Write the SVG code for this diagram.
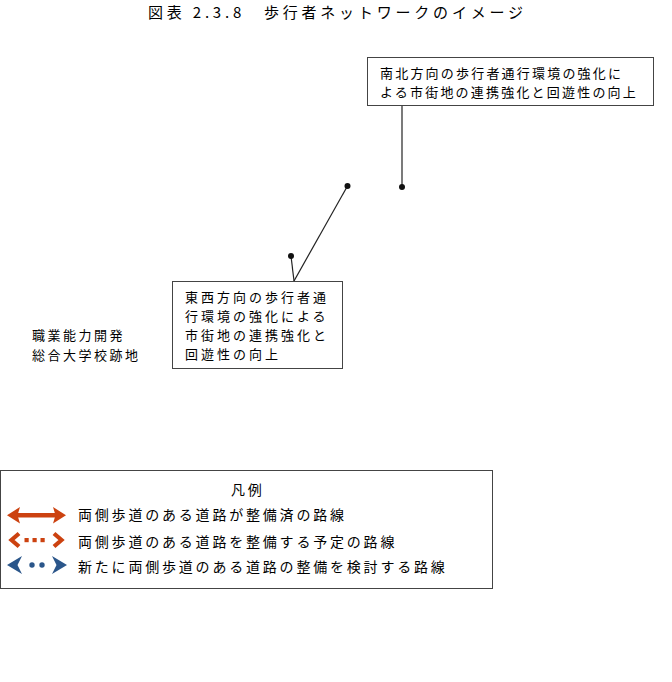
<svg xmlns="http://www.w3.org/2000/svg" width="672" height="682" viewBox="0 0 672 682">
<style>
text{font-family:"Noto Sans CJK JP","Noto Sans",sans-serif;fill:#000}
.t{font-size:15px;letter-spacing:3.8px}
.b{font-size:13px;letter-spacing:3px}
.n{font-size:13px;letter-spacing:2.2px}
.l{font-size:13px;letter-spacing:2.5px}
.g{font-size:14px;letter-spacing:2.8px}
.box{fill:#fff;stroke:#444;stroke-width:1}
.con{stroke:#222;stroke-width:1.2;fill:none}
.dot{fill:#111}
.red{fill:#cc4210}
.blue{fill:#2b568a}
</style>
<rect width="672" height="682" fill="#fff"/>
<g id="title"><text class="t" x="148" y="18">図表 2.3.8　歩行者ネットワークのイメージ</text></g>
<g id="connectors">
<line class="con" x1="402" y1="106" x2="402" y2="187"/>
<line class="con" x1="347.5" y1="186" x2="294" y2="281"/>
<line class="con" x1="291" y1="256" x2="294" y2="281"/>
<circle class="dot" cx="402" cy="187" r="3"/>
<circle class="dot" cx="347.5" cy="186" r="3"/>
<circle class="dot" cx="291" cy="256" r="3"/>
</g>
<g id="ns-callout">
<rect class="box" x="367.5" y="57.5" width="286" height="48"/>
<text class="n" x="380" y="78">南北方向の歩行者通行環境の強化に</text>
<text class="n" x="380" y="97">よる市街地の連携強化と回遊性の向上</text>
</g>
<g id="ew-callout">
<rect class="box" x="172.5" y="281.5" width="170" height="87"/>
<text class="b" x="185" y="302">東西方向の歩行者通</text>
<text class="b" x="185" y="321">行環境の強化による</text>
<text class="b" x="185" y="340">市街地の連携強化と</text>
<text class="b" x="185" y="359">回遊性の向上</text>
</g>
<g id="site-label">
<text class="l" x="32" y="340">職業能力開発</text>
<text class="l" x="32" y="360">総合大学校跡地</text>
</g>
<g id="legend">
<rect class="box" x="0.5" y="470.5" width="492" height="118" stroke="#333" stroke-width="1.3"/>
<text class="g" x="231" y="495">凡例</text>
<rect class="red" x="16" y="513" width="40" height="4.5"/>
<path class="red" d="M7,515.2 L20,507 L17.5,515.2 L20,523.5 Z"/>
<path class="red" d="M66,515.2 L53,507 L55.5,515.2 L53,523.5 Z"/>
<text class="g" x="78" y="520">両側歩道のある道路が整備済の路線</text>
<polyline points="19,533.5 11.5,540 19,546.5" fill="none" stroke="#cc4210" stroke-width="4.2"/>
<polyline points="54,533.5 61.5,540 54,546.5" fill="none" stroke="#cc4210" stroke-width="4.2"/>
<rect class="red" x="24.5" y="538" width="4.2" height="4.2"/>
<rect class="red" x="32.5" y="538" width="4.2" height="4.2"/>
<rect class="red" x="40.5" y="538" width="4.2" height="4.2"/>
<text class="g" x="78" y="547">両側歩道のある道路を整備する予定の路線</text>
<path class="blue" d="M7,565 L22,556 L17.5,565 L22,574 Z"/>
<path class="blue" d="M67,565 L52,556 L56.5,565 L52,574 Z"/>
<circle class="blue" cx="32" cy="565" r="2.7"/>
<circle class="blue" cx="42" cy="565" r="2.7"/>
<text class="g" x="78" y="572">新たに両側歩道のある道路の整備を検討する路線</text>
</g>
</svg>
